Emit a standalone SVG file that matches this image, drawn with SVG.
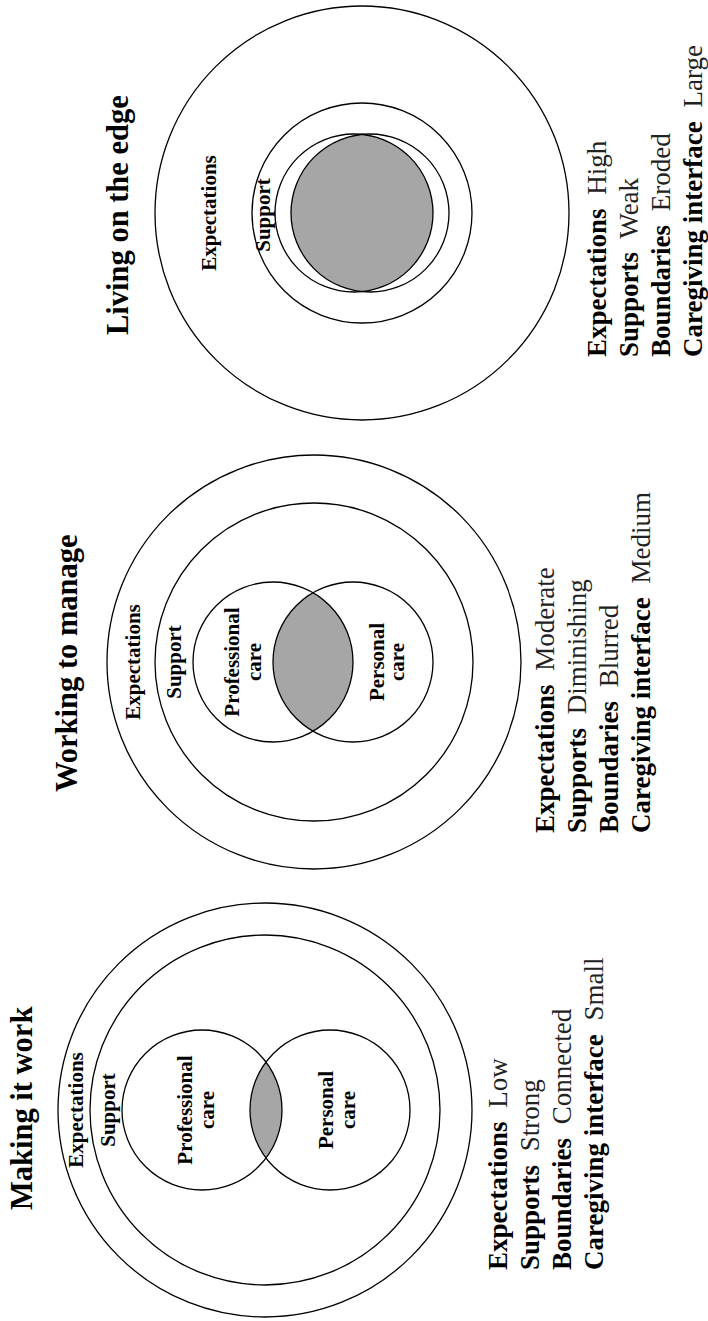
<svg xmlns="http://www.w3.org/2000/svg" width="708" height="1321" viewBox="0 0 708 1321">
<style>
.ring{fill:none;stroke:#000;stroke-width:1.3}
.lens{fill:#a6a6a6;stroke:none}
text{font-family:"Liberation Serif","Times New Roman",serif;fill:#000}
.title{font-size:30.5px;font-weight:bold}
.lbl{font-size:21px;font-weight:bold;text-anchor:middle}
.leg{font-size:27px;font-weight:bold}
.val{font-weight:normal;fill:#222}
</style>
<rect width="708" height="1321" fill="#fff"/>
<g id="connectors"/>

<g id="panel-making-it-work">
  <text id="p1-title" class="title" transform="translate(32,1210) rotate(-90)">Making it work</text>
  <g id="p1-expectations">
    <circle class="ring" cx="265" cy="1110" r="207"/>
    <text class="lbl" transform="translate(83,1110) rotate(-90)">Expectations</text>
  </g>
  <g id="p1-support">
    <circle class="ring" cx="265" cy="1110" r="175"/>
    <text class="lbl" transform="translate(115,1110) rotate(-90)">Support</text>
  </g>
  <g id="p1-interface">
    <path class="lens" d="M266 1062 A80 80 0 0 1 266 1158 A80 80 0 0 1 266 1062Z"/>
  </g>
  <g id="p1-professional">
    <circle class="ring" cx="202" cy="1110" r="80"/>
    <text class="lbl" transform="translate(192,1110) rotate(-90)"><tspan x="0" y="0">Professional</tspan><tspan x="0" y="22">care</tspan></text>
  </g>
  <g id="p1-personal">
    <circle class="ring" cx="330" cy="1110" r="80"/>
    <text class="lbl" transform="translate(333,1110) rotate(-90)"><tspan x="0" y="0">Personal</tspan><tspan x="0" y="22">care</tspan></text>
  </g>
  <g id="p1-legend">
    <text class="leg" transform="translate(507,1270) rotate(-90)">Expectations<tspan class="val" dx="7"> Low</tspan></text>
    <text class="leg" transform="translate(539,1270) rotate(-90)">Supports<tspan class="val" dx="7"> Strong</tspan></text>
    <text class="leg" transform="translate(571,1270) rotate(-90)">Boundaries<tspan class="val" dx="7"> Connected</tspan></text>
    <text class="leg" transform="translate(603,1270) rotate(-90)">Caregiving interface<tspan class="val" dx="7"> Small</tspan></text>
  </g>
</g>

<g id="panel-working-to-manage">
  <text id="p2-title" class="title" transform="translate(77,792) rotate(-90)">Working to manage</text>
  <g id="p2-expectations">
    <circle class="ring" cx="314" cy="662" r="207"/>
    <text class="lbl" transform="translate(140,662) rotate(-90)">Expectations</text>
  </g>
  <g id="p2-support">
    <circle class="ring" cx="314" cy="662" r="159"/>
    <text class="lbl" transform="translate(181,662) rotate(-90)">Support</text>
  </g>
  <g id="p2-interface">
    <path class="lens" d="M313 592.7 A80 80 0 0 1 313 731.3 A80 80 0 0 1 313 592.7Z"/>
  </g>
  <g id="p2-professional">
    <circle class="ring" cx="273" cy="662" r="80"/>
    <text class="lbl" transform="translate(239,662) rotate(-90)"><tspan x="0" y="0">Professional</tspan><tspan x="0" y="22">care</tspan></text>
  </g>
  <g id="p2-personal">
    <circle class="ring" cx="353" cy="662" r="80"/>
    <text class="lbl" transform="translate(384,662) rotate(-90)"><tspan x="0" y="0">Personal</tspan><tspan x="0" y="20">care</tspan></text>
  </g>
  <g id="p2-legend">
    <text class="leg" transform="translate(554,833) rotate(-90)">Expectations<tspan class="val" dx="7"> Moderate</tspan></text>
    <text class="leg" transform="translate(586,833) rotate(-90)">Supports<tspan class="val" dx="7"> Diminishing</tspan></text>
    <text class="leg" transform="translate(618,833) rotate(-90)">Boundaries<tspan class="val" dx="7"> Blurred</tspan></text>
    <text class="leg" transform="translate(650,833) rotate(-90)">Caregiving interface<tspan class="val" dx="7"> Medium</tspan></text>
  </g>
</g>

<g id="panel-living-on-the-edge">
  <text id="p3-title" class="title" transform="translate(128,335) rotate(-90)">Living on the edge</text>
  <g id="p3-expectations">
    <circle class="ring" cx="362" cy="213" r="207"/>
    <text class="lbl" transform="translate(216,213) rotate(-90)">Expectations</text>
  </g>
  <g id="p3-support">
    <circle class="ring" cx="362" cy="213" r="110"/>
    <text class="lbl" transform="translate(270,215) rotate(-90)">Support</text>
  </g>
  <g id="p3-interface">
    <path class="lens" d="M362 134.4 A79 79 0 0 1 362 291.6 A79 79 0 0 1 362 134.4Z"/>
  </g>
  <g id="p3-professional">
    <circle class="ring" cx="354" cy="213" r="79"/>
  </g>
  <g id="p3-personal">
    <circle class="ring" cx="370" cy="213" r="79"/>
  </g>
  <g id="p3-legend">
    <text class="leg" transform="translate(606,357) rotate(-90)">Expectations<tspan class="val" dx="7"> High</tspan></text>
    <text class="leg" transform="translate(638,357) rotate(-90)">Supports<tspan class="val" dx="7"> Weak</tspan></text>
    <text class="leg" transform="translate(670,357) rotate(-90)">Boundaries<tspan class="val" dx="7"> Eroded</tspan></text>
    <text class="leg" transform="translate(702,357) rotate(-90)">Caregiving interface<tspan class="val" dx="7"> Large</tspan></text>
  </g>
</g>
</svg>
